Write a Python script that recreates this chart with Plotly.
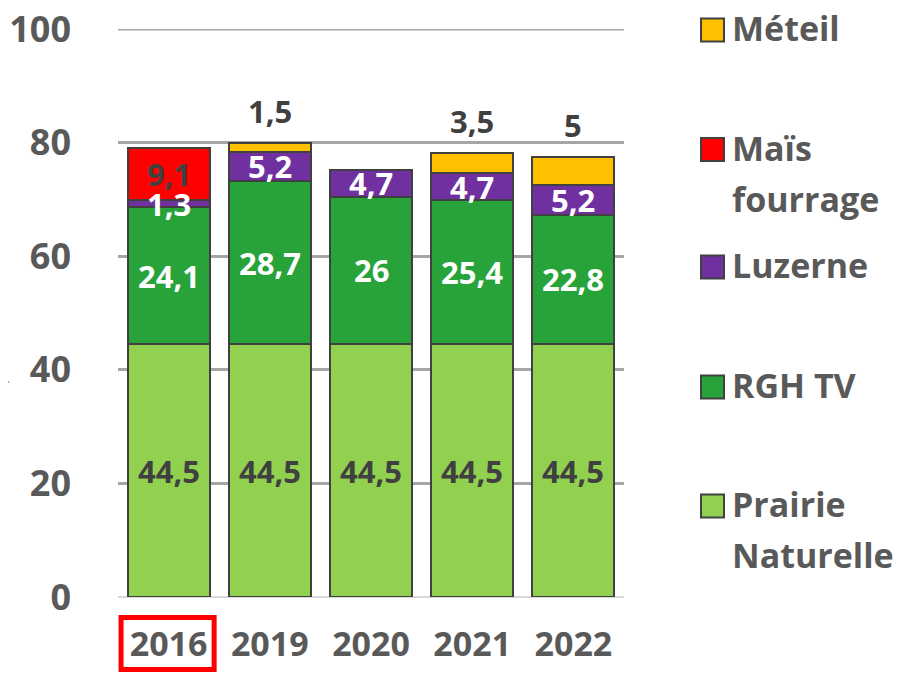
import plotly.graph_objects as go

years = ["2016", "2019", "2020", "2021", "2022"]
prairie = [44.5, 44.5, 44.5, 44.5, 44.5]
rgh_tv = [24.1, 28.7, 26, 25.4, 22.8]
luzerne = [1.3, 5.2, 4.7, 4.7, 5.2]
mais = [9.1, 0, 0, 0, 0]
meteil = [0, 1.5, 0, 3.5, 5]
y_ticks = [0, 20, 40, 60, 80, 100]

series = [
    ("Prairie Naturelle", ["Prairie", "Naturelle"], prairie, "#92D050", "#404040"),
    ("RGH TV", ["RGH TV"], rgh_tv, "#27A33A", "#FFFFFF"),
    ("Luzerne", ["Luzerne"], luzerne, "#7030A0", "#FFFFFF"),
    ("Maïs fourrage", ["Maïs", "fourrage"], mais, "#FF0000", "#404040"),
    ("Méteil", ["Méteil"], meteil, "#FFC000", "#404040"),
]

FONT = "Open Sans"
W, H = 902, 673
OFF = 8  # page body margin offset
# desired plot area in screenshot pixels
SL, SR, ST, SB = 118, 624, 29, 597
ML, MT = SL - OFF, ST - OFF
MR, MB = W - (SR - OFF), H - (SB - OFF)
PW, PH = SR - SL, SB - ST


def fx(p):
    return (p - SL) / PW


def fy(p):
    return (SB - p) / PH


def fmt(v):
    return f"{v:g}".replace(".", ",") if v else ""


fig = go.Figure()
for name, _, vals, col, _ in series:
    fig.add_trace(go.Bar(
        name=name, x=years, y=vals,
        marker=dict(color=col, line=dict(color="#404040", width=2)),
        showlegend=False, hoverinfo="skip",
    ))

annotations = []
# segment labels (drawn above all bars), centred in each segment
base = [0.0] * len(years)
for i, (name, _, vals, col, tcol) in enumerate(series):
    last = i == len(series) - 1
    for k, v in enumerate(vals):
        if v:
            if last:
                annotations.append(dict(
                    x=k, y=base[k] + v, xref="x", yref="y", text=fmt(v),
                    showarrow=False, yanchor="bottom", yshift=9,
                    font=dict(family=FONT, size=31, color=tcol, weight="bold")))
            else:
                annotations.append(dict(
                    x=k, y=base[k] + v / 2, xref="x", yref="y", text=fmt(v),
                    showarrow=False, yanchor="middle",
                    font=dict(family=FONT, size=31, color=tcol, weight="bold")))
        base[k] += v

shapes = [
    # top gridline (plotly clips the one on the plot edge)
    dict(type="line", xref="paper", yref="y", x0=0, x1=1, y0=y_ticks[-1], y1=y_ticks[-1],
         line=dict(color="#A6A6A6", width=3), layer="below"),
]
# manual legend (top item = last series)
leg_centers = [30, 149.5, 267, 387, 506]
for (name, lines, _, col, _), cy in zip(reversed(series), leg_centers):
    shapes.append(dict(type="rect", xref="paper", yref="paper",
                       x0=fx(701), x1=fx(724), y0=fy(cy - 11.5), y1=fy(cy + 11.5),
                       fillcolor=col, line=dict(color="#404040", width=2)))
    for j, ln in enumerate(lines):
        annotations.append(dict(
            x=fx(730), y=fy(cy - 2 + 51 * j), xref="paper", yref="paper", text=ln,
            showarrow=False, xanchor="left", yanchor="middle",
            font=dict(family=FONT, size=34, color="#595959", weight="bold")))

# red highlight box around 2016
shapes.append(dict(type="rect", xref="x", yref="paper",
                   x0=-0.47, x1=0.45, y0=fy(669.5), y1=fy(617.5),
                   line=dict(color="#FF0000", width=5)))
# orange arrow tip at left edge (mostly outside the figure)
shapes.append(dict(type="path", xref="paper", yref="paper",
                   path=f"M {fx(-4)},{fy(375)} L {fx(10)},{fy(382)} L {fx(-4)},{fy(389)} Z",
                   fillcolor="#ED7D31", line=dict(width=0)))

fig.update_layout(
    width=W, height=H,
    margin=dict(l=ML, r=MR, t=MT, b=MB, autoexpand=False),
    barmode="stack", bargap=0.19,
    plot_bgcolor="white", paper_bgcolor="white",
    showlegend=False,
    annotations=annotations, shapes=shapes,
    xaxis=dict(type="category", range=[-0.5, 4.5], showgrid=False, ticks="", showline=False,
               tickfont=dict(family=FONT, size=34, color="#595959", weight="bold"),
               ticklabelstandoff=24),
    yaxis=dict(range=[0, 100], tickvals=y_ticks, showgrid=True,
               gridcolor="#A6A6A6", gridwidth=3,
               zeroline=True, zerolinecolor="#D9D9D9", zerolinewidth=2,
               ticks="", showline=False, ticklabeloverflow="allow",
               tickfont=dict(family=FONT, size=36, color="#595959", weight="bold"),
               ticklabelstandoff=46),
)

fig.write_html("out.html")
